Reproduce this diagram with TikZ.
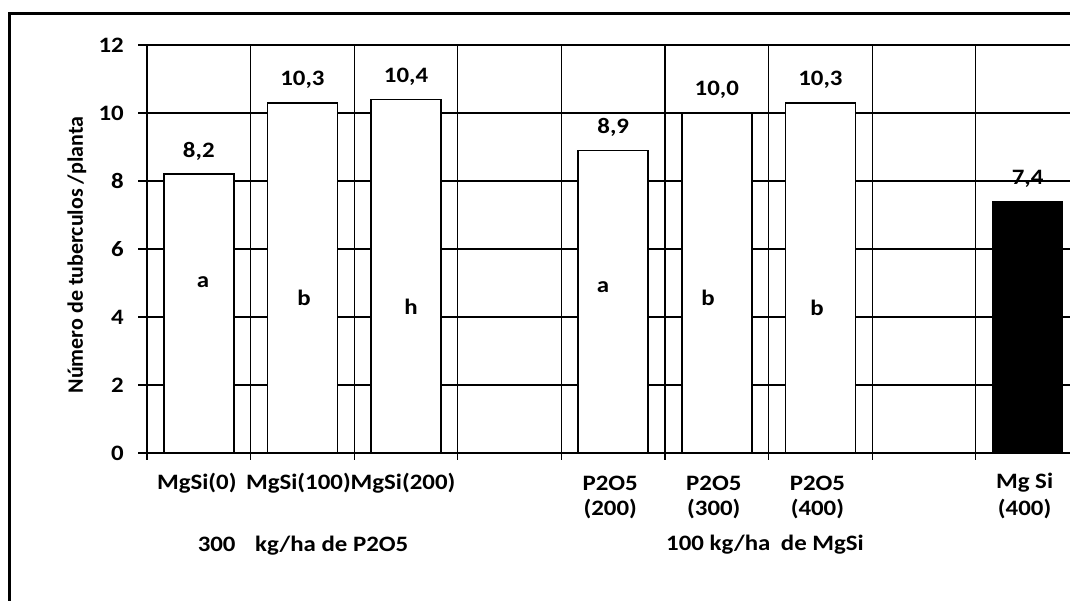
\documentclass[tikz,border=0pt]{standalone}
\usepackage{fontspec}
\setmainfont{Carlito}[FakeStretch=1.13]
\newfontfamily\ylabfont{Carlito}
\begin{document}
\begin{tikzpicture}[x=1pt,y=-1pt,
  gridline/.style={line width=1.3pt},
  barbox/.style={draw, line width=1.7pt, fill=white},
  darkbar/.style={draw, line width=1.7pt, fill=black},
  lbl/.style={font=\bfseries\fontsize{22}{24}\selectfont, inner sep=0pt},
  ylbl/.style={font=\ylabfont\bfseries\fontsize{22}{24}\selectfont, inner sep=0pt},
  frameline/.style={line width=3pt}]
\useasboundingbox (0,0) rectangle (1070,600);
\clip (0,0) rectangle (1070,600);
% outer frame
\draw[frameline] (9,620) -- (9,13) -- (1090,13);
% horizontal gridlines and ticks
\foreach \k in {0,2,...,12} {
  \draw[gridline] (138,{453-34*\k}) -- (1090,{453-34*\k});
  \node[lbl, anchor=east] (t\k) at (124,{453-34*\k}) {\k};
}
% vertical gridlines
\foreach \i in {0,...,9} {
  \draw[gridline] ({147+103.6*\i},45) -- ({147+103.6*\i},460);
}
\draw[line width=2pt] (147,45) -- (147,460);
% bars
\foreach \i/\v/\t in {0/8.2/{8,2},1/10.3/{10,3},2/10.4/{10,4},4/8.9/{8,9},5/10.0/{10,0},6/10.3/{10,3}} {
  \pgfmathsetmacro\cx{147+103.6*(\i+0.5)}
  \draw[barbox] (\cx-35,453) rectangle (\cx+35,{453-34*\v});
  \node[lbl] (v\i) at (\cx,{453-34*\v-23}) {\t};
}
\pgfmathsetmacro\cx{147+103.6*8.5}
\draw[darkbar] (\cx-35,453) rectangle (\cx+35,{453-34*7.4});
\node[lbl] (v8) at (\cx,{453-34*7.4-23}) {7,4};
% letters
\node[lbl] (la1) at (203,282) {a};
\node[lbl] (la2) at (304,298) {b};
\node[lbl] (la3) at (411,307) {h};
\node[lbl] (la4) at (603,287) {a};
\node[lbl] (la5) at (708,298) {b};
\node[lbl] (la6) at (817,308) {b};
% category labels
\node[lbl] (c0) at ({147+103.6*0.5-2},483) {MgSi(0)};
\node[lbl] (c1) at ({147+103.6*1.5-4},483) {MgSi(100)};
\node[lbl] (c2) at ({147+103.6*2.5-3},483) {MgSi(200)};
\foreach \i/\a/\b in {4/P2O5/(200),5/P2O5/(300),6/P2O5/(400),8/Mg Si/(400)} {
  \node[lbl] (ca\i) at ({147+103.6*(\i+0.5)-3},483) {\a};
  \node[lbl] (cb\i) at ({147+103.6*(\i+0.5)-3},509) {\b};
}
% group labels
\node[lbl] (g1) at (303,546) {300\hspace{14pt} kg/ha de P2O5};
\node[lbl] (g2) at (765,545) {100 kg/ha\hspace{5pt} de MgSi};
% y axis label
\node[ylbl, rotate=90] (ylab) at (77,255) {Número de tuberculos /planta};
\end{tikzpicture}
\end{document}
